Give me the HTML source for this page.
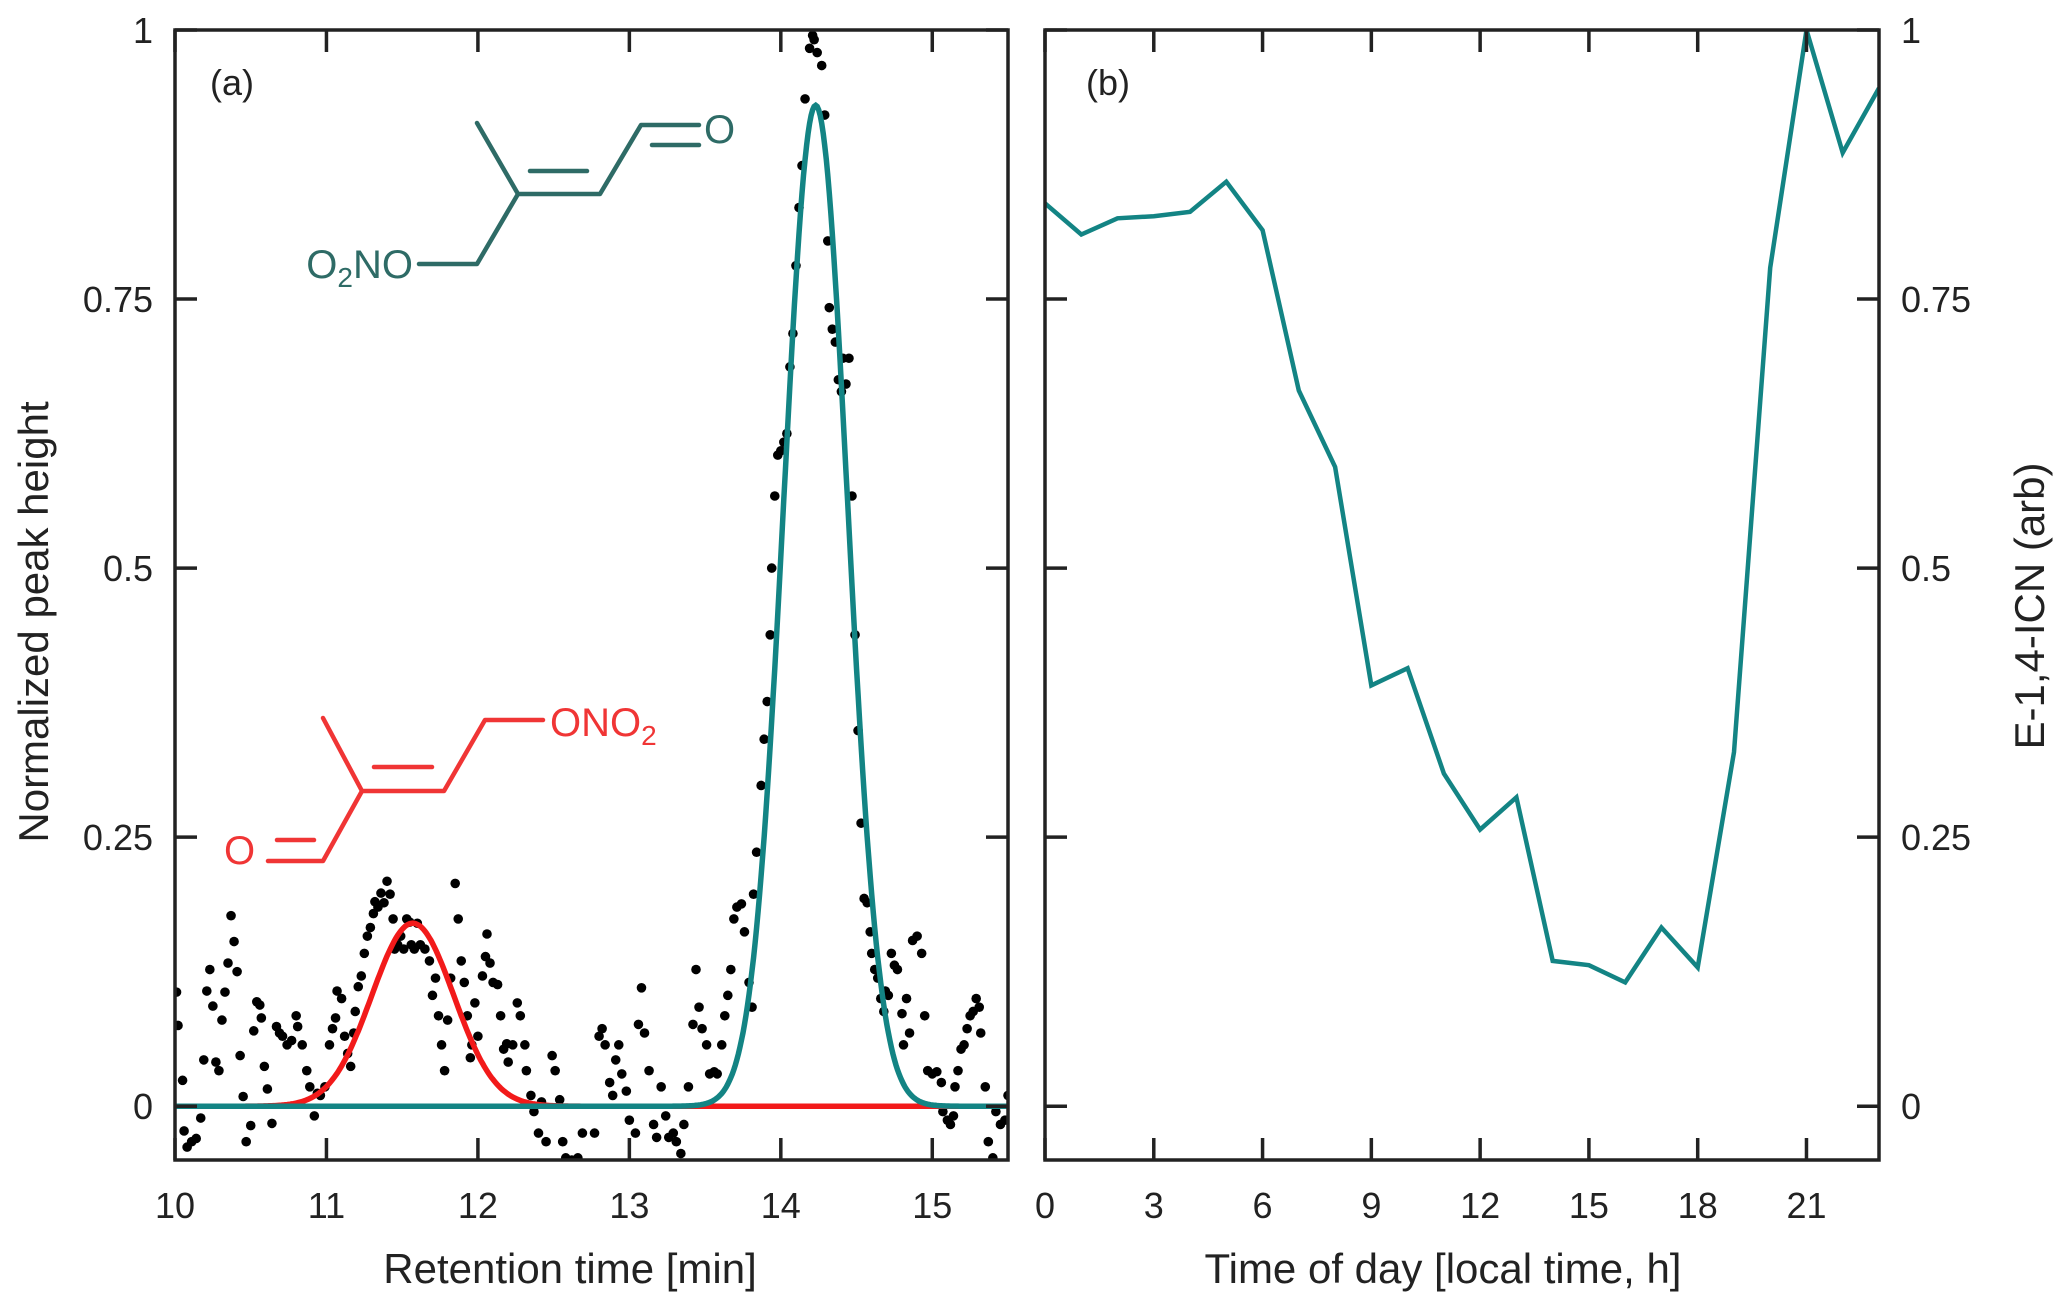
<!DOCTYPE html>
<html><head><meta charset="utf-8"><style>
body{margin:0;background:#fff}
svg{display:block;font-family:"Liberation Sans",Arial,sans-serif}
</style></head><body>
<svg id="c" width="2067" height="1309" viewBox="0 0 2067 1309">
<g id="mol">
 <g stroke="#2e6b66" stroke-width="4.5" fill="none" stroke-linecap="round" stroke-linejoin="round">
  <polyline points="477,123 518,194 600,194 641,125 699,125"/>
  <line x1="652" y1="145" x2="699" y2="145"/>
  <line x1="530" y1="171" x2="587" y2="171"/>
  <polyline points="518,194 477,264 419,264"/>
 </g>
 <text x="704" y="143" font-size="40" fill="#2e6b66">O</text>
 <text x="413" y="278" font-size="40" fill="#2e6b66" text-anchor="end">O<tspan font-size="28" dy="9">2</tspan><tspan dy="-9">NO</tspan></text>
 <g stroke="#f03535" stroke-width="4.5" fill="none" stroke-linecap="round" stroke-linejoin="round">
  <polyline points="323,718 362,791 444,791 485,720 543,720"/>
  <line x1="374" y1="767" x2="432" y2="767"/>
  <polyline points="362,791 323,861 268,861"/>
  <line x1="277" y1="840" x2="314" y2="840"/>
 </g>
 <text x="550" y="736" font-size="40" fill="#f03535">ONO<tspan font-size="28" dy="9">2</tspan></text>
 <text x="224" y="864" font-size="40" fill="#f03535">O</text>
</g>
</svg>
<script>
// Panel (a) data
const dotX=[10.01,10.02,10.05,10.06,10.08,10.11,10.14,10.17,10.19,10.21,10.23,10.25,10.27,10.29,10.31,10.33,10.35,10.37,10.39,10.41,10.43,10.45,10.47,10.50,10.52,10.54,10.56,10.57,10.59,10.61,10.64,10.67,10.69,10.71,10.74,10.77,10.80,10.81,10.84,10.87,10.89,10.92,10.94,10.96,10.99,11.02,11.04,11.06,11.07,11.10,11.12,11.14,11.16,11.18,11.19,11.21,11.23,11.25,11.27,11.29,11.31,11.32,11.34,11.36,11.38,11.40,11.42,11.44,11.45,11.47,11.49,11.51,11.53,11.55,11.56,11.58,11.60,11.62,11.65,11.68,11.70,11.72,11.74,11.76,11.78,11.80,11.82,11.85,11.87,11.89,11.91,11.93,11.95,11.96,11.98,12.00,12.03,12.05,12.06,12.08,12.10,12.13,12.15,12.17,12.19,12.20,12.23,12.26,12.28,12.31,12.32,12.35,12.37,12.40,12.42,12.45,12.49,12.51,12.54,12.56,12.58,12.62,12.66,12.69,12.77,12.80,12.82,12.84,12.87,12.89,12.91,12.93,12.95,12.98,13.00,13.04,13.06,13.08,13.10,13.13,13.16,13.18,13.21,13.24,13.26,13.29,13.31,13.34,13.36,13.39,13.42,13.44,13.46,13.48,13.51,13.53,13.56,13.58,13.61,13.63,13.65,13.67,13.69,13.71,13.74,13.76,13.79,13.81,13.82,13.84,13.87,13.89,13.91,13.93,13.94,13.96,13.98,14.00,14.02,14.04,14.06,14.08,14.10,14.12,14.14,14.16,14.19,14.21,14.22,14.24,14.27,14.29,14.31,14.32,14.34,14.36,14.38,14.40,14.41,14.43,14.45,14.47,14.49,14.51,14.53,14.55,14.57,14.59,14.60,14.62,14.64,14.66,14.68,14.69,14.71,14.73,14.75,14.77,14.80,14.81,14.83,14.85,14.87,14.90,14.93,14.95,14.97,15.00,15.03,15.06,15.07,15.10,15.12,15.14,15.15,15.17,15.19,15.21,15.23,15.25,15.27,15.29,15.31,15.32,15.35,15.37,15.40,15.42,15.45,15.48,15.50];
const dotY=[0.106,0.075,0.024,-0.023,-0.038,-0.033,-0.03,-0.011,0.043,0.107,0.127,0.093,0.041,0.033,0.08,0.106,0.133,0.177,0.153,0.125,0.047,0.009,-0.033,-0.018,0.07,0.097,0.094,0.082,0.037,0.016,-0.016,0.074,0.068,0.065,0.057,0.061,0.084,0.074,0.057,0.033,0.018,-0.009,0.012,0.01,0.018,0.057,0.072,0.082,0.107,0.1,0.065,0.049,0.037,0.068,0.088,0.111,0.121,0.142,0.158,0.166,0.179,0.19,0.185,0.198,0.189,0.209,0.197,0.174,0.146,0.15,0.158,0.146,0.174,0.171,0.15,0.146,0.17,0.15,0.146,0.135,0.103,0.119,0.084,0.057,0.033,0.08,0.119,0.207,0.174,0.135,0.115,0.084,0.045,0.057,0.096,0.065,0.121,0.139,0.16,0.133,0.115,0.113,0.084,0.053,0.058,0.041,0.057,0.096,0.084,0.057,0.033,0.01,-0.005,-0.025,0.004,-0.033,0.047,0.033,0.006,-0.033,-0.048,-0.05,-0.048,-0.025,-0.025,0.065,0.072,0.057,0.022,0.01,0.043,0.057,0.03,0.014,-0.013,-0.025,0.076,0.11,0.068,0.033,-0.017,-0.029,0.018,-0.009,-0.029,-0.025,-0.033,-0.044,-0.017,0.018,0.076,0.127,0.092,0.072,0.057,0.03,0.032,0.03,0.057,0.084,0.103,0.127,0.174,0.185,0.188,0.162,0.115,0.092,0.197,0.236,0.298,0.341,0.376,0.438,0.5,0.567,0.605,0.609,0.617,0.625,0.687,0.718,0.781,0.835,0.874,0.936,0.983,0.995,0.991,0.979,0.967,0.921,0.804,0.742,0.722,0.71,0.675,0.664,0.695,0.671,0.695,0.567,0.438,0.349,0.263,0.193,0.189,0.162,0.142,0.127,0.119,0.1,0.088,0.107,0.103,0.142,0.131,0.127,0.086,0.057,0.1,0.068,0.154,0.158,0.142,0.084,0.033,0.03,0.032,0.022,-0.005,-0.013,-0.017,-0.009,0.018,0.033,0.053,0.057,0.072,0.084,0.088,0.1,0.092,0.068,0.018,-0.033,-0.048,-0.005,-0.017,-0.013,0.01];
const fitCenters=[11.57,14.23];
const fitAmps=[0.17,0.93];
const fitSigmas=[0.27,0.21];
const aXTicks=[10,11,12,13,14,15];
const yTicks=[0,0.25,0.5,0.75,1];
const yTickLabels=["0","0.25","0.5","0.75","1"];
// Panel (b) data
const hours=[0,1,2,3,4,5,6,7,8,9,10,11,12,13,14,15,16,17,18,19,20,21,22,23];
const icn=[0.839,0.810,0.825,0.827,0.831,0.859,0.814,0.665,0.594,0.391,0.407,0.309,0.257,0.287,0.135,0.131,0.115,0.166,0.129,0.329,0.779,1.0,0.886,0.946];
const bXTicks=[0,3,6,9,12,15,18,21];

const NS='http://www.w3.org/2000/svg';
const svg=document.getElementById('c');
function mk(tag,attrs,parent){const e=document.createElementNS(NS,tag);for(const k in attrs)e.setAttribute(k,attrs[k]);(parent||svg).appendChild(e);return e;}
const T=30,B=1160,YMIN=-0.05,YMAX=1.0;
const sy=v=>B-(v-YMIN)/(YMAX-YMIN)*(B-T);
const A={l:175,r:1008,min:10,max:15.5};
const Bp={l:1045,r:1879,min:0,max:23};
const sxA=v=>A.l+(v-A.min)/(A.max-A.min)*(A.r-A.l);
const sxB=v=>Bp.l+(v-Bp.min)/(Bp.max-Bp.min)*(Bp.r-Bp.l);
const teal='#138484';

const defs=mk('defs',{});
const cp=mk('clipPath',{id:'clipA'},defs);mk('rect',{x:A.l,y:T,width:A.r-A.l,height:B-T},cp);
const cpb=mk('clipPath',{id:'clipB'},defs);mk('rect',{x:Bp.l,y:T-5,width:Bp.r-Bp.l,height:B-T+5},cpb);

const gd=mk('g',{'clip-path':'url(#clipA)'});


for(let i=0;i<dotX.length;i++){
  const c=mk('circle',{cx:sxA(dotX[i]),cy:sy(dotY[i]),r:4.8,fill:'#000'},gd);
  
  
}
const fitColors=['#f21a1a',teal];
const fitNames=['z-isomer-fit','e-isomer-fit'];
for(let k=0;k<fitCenters.length;k++){
  let d='';
  for(let x=A.min;x<=A.max+1e-9;x+=0.01){
    const y=fitAmps[k]*Math.exp(-0.5*Math.pow((x-fitCenters[k])/fitSigmas[k],2));
    d+=(d?'L':'M')+sxA(x).toFixed(1)+','+sy(y).toFixed(1);
  }
  const p=mk('path',{d:d,fill:'none',stroke:fitColors[k],'stroke-width':5.5,'clip-path':'url(#clipA)'});
  
  
}
let db='';
hours.forEach((h,i)=>{db+=(i?'L':'M')+sxB(h).toFixed(1)+','+sy(icn[i]).toFixed(1);});
const lb=mk('path',{d:db,fill:'none',stroke:teal,'stroke-width':4.5,'stroke-linejoin':'miter','clip-path':'url(#clipB)'});



function frame(P,sx,xt,name,rightLabels){
  const g=mk('g',{stroke:'#222','stroke-width':3.5,fill:'none'});
  
  
  mk('rect',{x:P.l,y:T,width:P.r-P.l,height:B-T},g);
  xt.forEach(v=>{const x=sx(v);mk('line',{x1:x,y1:B,x2:x,y2:B-22},g);mk('line',{x1:x,y1:T,x2:x,y2:T+22},g);
    const t=mk('text',{x:x,y:1218,'font-size':36,'text-anchor':'middle',fill:'#222',stroke:'none'});t.textContent=v;
    
    });
  yTicks.forEach((v,i)=>{const y=sy(v);mk('line',{x1:P.l,y1:y,x2:P.l+22,y2:y},g);mk('line',{x1:P.r,y1:y,x2:P.r-22,y2:y},g);
    const t=mk('text',{x:rightLabels?P.r+22:P.l-22,y:y+13,'font-size':36,'text-anchor':rightLabels?'start':'end',fill:'#222',stroke:'none'});t.textContent=yTickLabels[i];
    
    });
}
frame(A,sxA,aXTicks,'panel-a',false);
frame(Bp,sxB,bXTicks,'panel-b',true);

function txt(s,attrs,name){const t=mk('text',Object.assign({fill:'#222','font-size':42},attrs));t.textContent=s;
  
  return t;}
txt('Retention time [min]',{x:570,y:1283,'text-anchor':'middle'},'x-axis-title-a');
txt('Time of day [local time, h]',{x:1443,y:1283,'text-anchor':'middle'},'x-axis-title-b');
txt('Normalized peak height',{x:0,y:0,'text-anchor':'middle',transform:'translate(48,622) rotate(-90)'},'y-axis-title-a');
txt('E-1,4-ICN (arb)',{x:0,y:0,'text-anchor':'middle',transform:'translate(2044,606) rotate(-90)'},'y-axis-title-b');
txt('(a)',{x:210,y:95,'font-size':36},'panel-a-label');
txt('(b)',{x:1086,y:95,'font-size':36},'panel-b-label');
</script>
</body></html>
